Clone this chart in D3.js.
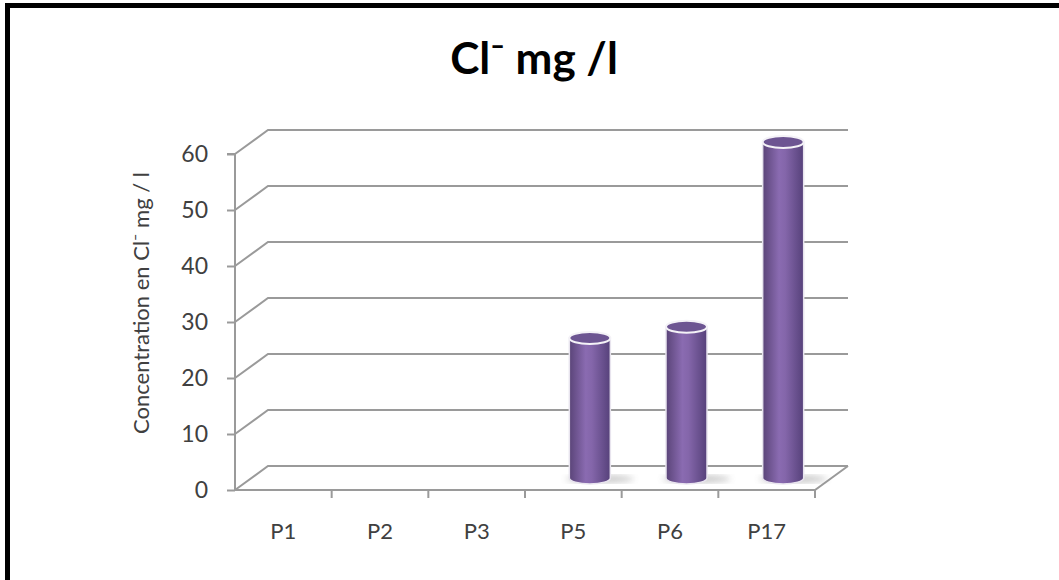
<!DOCTYPE html>
<html>
<head>
<meta charset="utf-8">
<script src="https://cdn.jsdelivr.net/npm/d3@7"></script>
<style>
  html, body { margin: 0; padding: 0; background: #fff; }
  svg { display: block; }
</style>
</head>
<body>
<script>
// categories and values
const categories = ['P1', 'P2', 'P3', 'P5', 'P6', 'P17'];
const values = [0, 0, 0, 25, 27, 60];
const yTicks = [0, 10, 20, 30, 40, 50, 60];

const width = 1059;
const height = 580;
const font = 'Lato, "Open Sans", sans-serif';

// 3d depth of the plot box
const depth = { dx: 33, dy: -24 };

const x = d3.scaleBand().domain(categories).range([235, 815]);
const y = d3.scaleLinear().domain([0, 60]).range([490, 154]);

const svg = d3.select('body')
  .append('svg')
  .attr('width', width)
  .attr('height', height);

svg.append('rect')
  .attr('width', width)
  .attr('height', height)
  .attr('fill', 'white');

// frame (only left and top visible)
svg.append('rect')
  .attr('x', 7.5).attr('y', 5.5)
  .attr('width', width + 20).attr('height', height + 20)
  .attr('fill', 'none')
  .attr('stroke', 'black')
  .attr('stroke-width', 5);

const defs = svg.append('defs');
const grad = defs.append('linearGradient')
  .attr('id', 'cyl')
  .attr('x1', '0%').attr('x2', '100%');
grad.append('stop').attr('offset', '0%').attr('stop-color', '#5a4478');
grad.append('stop').attr('offset', '40%').attr('stop-color', '#8a6bb1');
grad.append('stop').attr('offset', '55%').attr('stop-color', '#8466aa');
grad.append('stop').attr('offset', '100%').attr('stop-color', '#56417a');

defs.append('filter').attr('id', 'blur')
  .append('feGaussianBlur').attr('stdDeviation', 3);

const gridColor = '#9a9a9a';
const x0 = x.range()[0];
const x1 = x.range()[1];

// back wall gridlines and diagonals from the front axis
const grid = svg.append('g').attr('stroke', gridColor).attr('stroke-width', 2).attr('fill', 'none');
yTicks.forEach(t => {
  grid.append('path')
    .attr('d', `M${x0},${y(t)} L${x0 + depth.dx},${y(t) + depth.dy} L${x1 + depth.dx},${y(t) + depth.dy}`);
});
// floor right side and front edge
grid.append('path')
  .attr('d', `M${x0},${y(0)} L${x1},${y(0)} L${x1 + depth.dx},${y(0) + depth.dy}`);

// y axis
const yAxis = svg.append('g')
  .attr('transform', `translate(${x0},0)`)
  .call(d3.axisLeft(y).tickValues(yTicks).tickSize(8).tickPadding(19));
yAxis.select('.domain').attr('stroke', gridColor).attr('stroke-width', 2).attr('d', `M-8,${y(60)}H0V${y(0)}`);
yAxis.selectAll('.tick line').attr('stroke', gridColor).attr('stroke-width', 2);
yAxis.selectAll('.tick text')
  .attr('font-family', font).attr('font-size', 23).attr('fill', '#404040');

// x axis
const xAxis = svg.append('g')
  .attr('transform', `translate(0,${y(0)})`)
  .call(d3.axisBottom(x).tickSize(0).tickPadding(33));
xAxis.select('.domain').remove();
xAxis.selectAll('.tick text')
  .attr('font-family', font).attr('font-size', 22).attr('fill', '#404040');
// tick marks between categories
xAxis.selectAll('line.sep')
  .data(categories)
  .enter().append('line')
  .attr('class', 'sep')
  .attr('x1', d => x(d) + x.bandwidth())
  .attr('x2', d => x(d) + x.bandwidth())
  .attr('y1', 0).attr('y2', 8)
  .attr('stroke', gridColor).attr('stroke-width', 2);

// cylinders at mid-depth
const data = categories.map((c, i) => ({ c, v: values[i] })).filter(d => d.v > 0);
const rx = 20.5;
const ry = 6;
const cx = d => x(d.c) + x.bandwidth() / 2 + depth.dx / 2;
const cy = v => y(v) + depth.dy / 2;

const bars = svg.append('g').selectAll('g').data(data).enter().append('g');

bars.append('ellipse')
  .attr('cx', d => cx(d) + 10)
  .attr('cy', d => cy(0) + 1)
  .attr('rx', 34).attr('ry', 4)
  .attr('fill', '#8c8c8c')
  .attr('opacity', 0.45)
  .attr('filter', 'url(#blur)');

bars.append('path')
  .attr('d', d => {
    const l = cx(d) - rx, r = cx(d) + rx, top = cy(d.v), bot = cy(0);
    return `M${l},${top} L${l},${bot} A${rx},${ry} 0 0 0 ${r},${bot} L${r},${top} Z`;
  })
  .attr('fill', 'url(#cyl)')
  .attr('stroke', '#e8e4ee')
  .attr('stroke-width', 1.5);

bars.append('ellipse')
  .attr('cx', cx)
  .attr('cy', d => cy(d.v))
  .attr('rx', rx).attr('ry', ry)
  .attr('fill', '#6d5592')
  .attr('stroke', '#f4f2f7')
  .attr('stroke-width', 2);

// titles
svg.append('text')
  .attr('x', 534).attr('y', 74)
  .attr('text-anchor', 'middle')
  .attr('font-family', font).attr('font-weight', 'bold').attr('font-size', 44)
  .attr('fill', 'black')
  .text('Cl⁻ mg /l');

svg.append('text')
  .attr('transform', 'translate(149,303) rotate(-90)')
  .attr('text-anchor', 'middle')
  .attr('font-family', font).attr('font-size', 22)
  .attr('fill', '#404040')
  .text('Concentration en Cl⁻ mg / l');
</script>
</body>
</html>
